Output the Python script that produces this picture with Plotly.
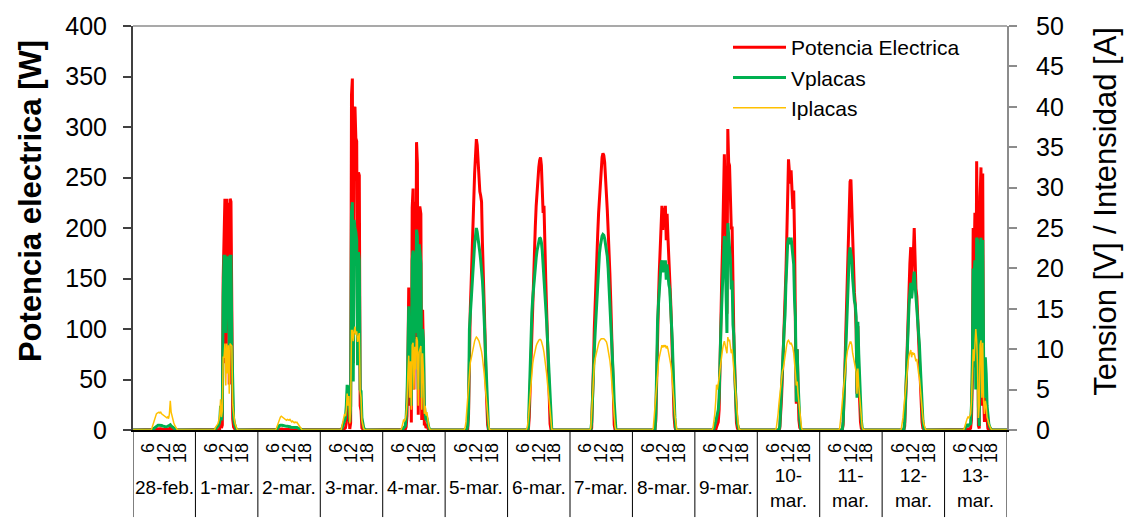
import plotly.graph_objects as go

# ---------------- data ----------------
DAY_LABELS = ["28-feb.", "1-mar.", "2-mar.", "3-mar.", "4-mar.", "5-mar.", "6-mar.",
              "7-mar.", "8-mar.", "9-mar.", "10-\nmar.", "11-\nmar.", "12-\nmar.", "13-\nmar."]
HOUR_TICKS = [6, 12, 18]
HOUR_TEXT = ["6", "12", "18"]

# daylight samples every 20 min from 07:00 (missing trailing samples and night = 0)
P_days = [
    [0, 0, 0, 0, 0, 0.3, 0.6, 1.0, 1.2, 1.3, 1.3, 1.3, 1.1, 1.0, 0.9, 0.8, 0.6, 0.6, 0.6, 0.7, 0.7, 1.2, 2.3, 1.1, 0.6, 0.4, 0.2],
    [0, 0, 0, 0, 0, 0, 0.4, 1.0, 11, 2, 5, 150, 190, 229, 66, 229, 98, 225, 45, 229, 226, 112, 11, 3, 1, 0.2],
    [0, 0, 0.2, 0.5, 0.8, 1.0, 1.1, 1.0, 0.8, 0.7, 0.7, 0.6, 0.5, 0.6, 0.5, 0.5, 0.5, 0.4, 0.35, 0.4, 0.3, 0.3, 0.3, 0.3, 0.3, 0.2, 0.1],
    [0, 0, 0, 0, 0, 0.3, 0.8, 2, 2, 7, 25, 12, 23, 1, 7, 332, 348, 66, 318, 320, 289, 286, 87, 255, 252, 24, 19, 2, 0.4],
    [0, 0, 0, 0.2, 0.3, 0.6, 3, 14, 63, 141, 24, 119, 7.5, 220, 239, 40, 226, 90, 285, 264, 15, 220, 220, 214, 10, 119, 77, 6, 6, 2, 3.3, 1, 0.2],
    [0, 0, 0, 0, 0, 0, 15, 100, 120, 145, 176, 210, 238, 254, 271, 288, 282, 266, 255, 236, 232, 226, 185, 160, 120, 94, 50, 20, 5],
    [0, 0, 0, 0, 13, 43, 74, 106, 134, 158, 181, 202, 222, 238, 252, 260, 267, 270, 262, 244, 215, 222, 172, 150, 120, 85, 55, 25, 6, 1],
    [0, 0, 0, 0, 2, 25, 62, 100, 128, 150, 175, 195, 215, 232, 250, 262, 270, 274, 272, 265, 252, 235, 218, 198, 180, 155, 128, 100, 62, 30, 5],
    [0, 0, 0, 0, 0, 0, 10, 60, 100, 128, 157, 182, 207, 222, 198, 220, 206, 222, 188, 214, 190, 172, 158, 130, 105, 72, 38, 14, 3],
    [0, 0, 0, 0, 3, 5, 8, 20, 75, 113, 150, 185, 225, 273, 235, 185, 115, 298, 265, 262, 225, 200, 200, 115, 90, 61, 22, 7, 2],
    [0, 0, 0, 0, 0, 2, 14, 32, 55, 76, 106, 132, 155, 190, 235, 268, 256, 244, 257, 236, 219, 237, 190, 98, 26, 80, 27, 10, 2.4, 0.2],
    [0, 0, 0, 0, 0, 0, 5, 24, 58, 94, 126, 167, 206, 230, 246, 248, 220, 178, 150, 136, 124, 100, 36, 103, 52, 24, 8, 1.5, 0.1],
    [0, 0, 0, 0, 0, 4, 21, 52, 84, 115, 143, 165, 181, 145, 168, 174, 200, 162, 140, 132, 110, 100, 68, 55, 22, 8, 2, 0.2],
    [0, 0, 0, 0.2, 0.6, 0.8, 0.8, 0.9, 1.2, 1.6, 10, 48, 200, 162, 215, 62, 266, 188, 4.5, 1.5, 231, 260, 24, 254, 34, 8, 32, 21, 5, 1.5, 0.6, 0.2],
]

V_days = [
    [0, 0, 0.1, 0.2, 0.3, 0.4, 0.5, 0.55, 0.6, 0.6, 0.6, 0.6, 0.55, 0.5, 0.5, 0.45, 0.4, 0.4, 0.4, 0.45, 0.5, 0.6, 0.65, 0.5, 0.4, 0.3, 0.2, 0.1, 0.05],
    [0, 0, 0.1, 0.2, 0.3, 0.4, 0.6, 1.0, 3.0, 1.2, 2.0, 16.5, 21.5, 21.5, 12.0, 21.5, 14.0, 21.5, 10.0, 21.5, 21.5, 10.7, 3.5, 1.5, 0.8, 0.3, 0.1],
    [0, 0.1, 0.3, 0.45, 0.55, 0.6, 0.65, 0.6, 0.55, 0.5, 0.5, 0.45, 0.45, 0.45, 0.4, 0.4, 0.4, 0.35, 0.35, 0.35, 0.3, 0.3, 0.3, 0.3, 0.3, 0.25, 0.2, 0.1, 0.05],
    [0, 0, 0, 0, 0.2, 0.5, 0.8, 1.2, 1.5, 3.0, 5.6, 4.0, 5.5, 1.0, 3.0, 27.0, 28.2, 6.0, 26.0, 25.0, 24.5, 23.5, 8.0, 22.0, 21.0, 5.0, 4.8, 1.5, 0.8, 0.3, 0.1],
    [0, 0, 0.1, 0.2, 0.3, 0.5, 1.5, 4.0, 9.0, 15.3, 6.0, 14.0, 3.0, 21.0, 22.2, 8.0, 22.0, 12.0, 24.8, 24.0, 5.0, 23.0, 22.0, 20.6, 4.0, 12.5, 11.0, 3.0, 2.0, 1.2, 1.5, 0.8, 0.4, 0.1],
    [0, 0, 0, 0, 0, 0.5, 2.5, 12.5, 14.5, 16.5, 18.5, 20.5, 22.0, 23.0, 24.0, 25.0, 24.5, 23.8, 23.0, 22.0, 21.0, 20.0, 18.5, 16.5, 13.5, 11.0, 7.5, 4.5, 1.5, 0.2],
    [0, 0, 0, 0.3, 4.5, 9.0, 12.0, 14.5, 16.3, 17.8, 19.0, 20.2, 21.3, 22.2, 22.9, 23.4, 23.8, 23.7, 23.2, 22.2, 20.5, 19.5, 17.0, 15.5, 13.5, 11.2, 8.8, 6.0, 3.2, 0.8],
    [0, 0, 0, 0, 1.0, 5.0, 7.7, 9.8, 12.0, 14.2, 16.0, 18.0, 20.2, 21.9, 22.8, 23.5, 24.0, 24.2, 24.1, 23.7, 23.0, 22.3, 21.5, 20.0, 18.0, 15.8, 13.3, 11.0, 8.8, 6.5, 3.5, 0.5],
    [0, 0, 0, 0, 0, 0, 2.0, 9.0, 13.5, 15.5, 17.5, 19.0, 20.5, 21.0, 19.5, 21.0, 20.0, 21.0, 18.6, 20.5, 19.0, 18.0, 17.5, 15.5, 13.8, 11.0, 7.5, 4.0, 1.5, 0.2],
    [0, 0.2, 0.5, 1.0, 1.5, 2.0, 2.5, 4.0, 10.0, 12.5, 15.5, 18.5, 21.0, 24.0, 22.0, 18.0, 12.0, 25.6, 24.0, 23.0, 21.0, 17.4, 18.5, 13.0, 11.6, 7.0, 4.0, 2.0, 0.8, 0.1],
    [0, 0, 0, 0, 0, 0.5, 2.5, 5.0, 7.5, 10.0, 12.5, 14.2, 18.0, 21.0, 23.0, 23.8, 23.5, 23.0, 23.8, 22.5, 21.5, 20.5, 16.0, 14.0, 3.5, 10.0, 6.0, 3.0, 1.2, 0.2],
    [0, 0, 0, 0, 0, 0, 1.0, 4.0, 8.0, 11.5, 14.0, 17.0, 20.0, 21.5, 22.6, 22.0, 21.0, 18.8, 17.0, 16.0, 15.5, 14.0, 4.0, 13.4, 9.5, 6.0, 3.0, 1.2, 0.3],
    [0, 0, 0, 0, 0, 1.0, 4.0, 8.0, 11.0, 13.5, 15.5, 17.0, 18.2, 16.3, 17.5, 18.5, 19.6, 18.0, 16.5, 15.4, 14.0, 12.5, 10.5, 8.0, 5.5, 3.0, 1.2, 0.3],
    [0, 0, 0, 0.3, 0.5, 0.6, 0.5, 0.6, 0.7, 0.8, 3.0, 8.0, 20.0, 19.0, 21.0, 5.0, 23.8, 23.5, 3.0, 0.5, 22.0, 23.8, 6.0, 23.5, 9.4, 4.0, 9.0, 7.0, 3.0, 1.5, 0.8, 0.4, 0.2, 0.05],
]

I_days = [
    [0, 0.3, 0.7, 1.1, 1.5, 1.8, 2.0, 2.1, 2.2, 2.2, 2.1, 2.2, 2.0, 1.9, 1.8, 1.7, 1.6, 1.6, 1.5, 1.6, 1.4, 2.0, 3.6, 2.2, 1.6, 1.2, 0.9, 0.6, 0.4, 0.2, 0.05],
    [0, 0, 0.3, 0.5, 0.6, 0.8, 1.2, 1.8, 3.8, 1.6, 2.4, 9.0, 9.0, 10.7, 5.5, 10.7, 7.0, 10.5, 4.5, 10.7, 10.5, 10.4, 3.2, 1.8, 1.2, 0.7, 0.3, 0.1],
    [0.1, 0.4, 0.8, 1.1, 1.4, 1.6, 1.7, 1.6, 1.5, 1.4, 1.35, 1.3, 1.2, 1.3, 1.25, 1.2, 1.3, 1.1, 1.0, 1.1, 1.0, 0.9, 1.0, 0.9, 0.95, 0.8, 0.6, 0.4, 0.2, 0.05],
    [0, 0, 0, 0, 0.5, 1.2, 1.8, 2.0, 1.7, 2.5, 4.5, 3.0, 4.2, 0.8, 2.5, 12.3, 12.3, 11.0, 12.2, 12.8, 11.8, 12.2, 10.9, 11.6, 12.0, 4.8, 4.0, 1.2, 0.5, 0.2],
    [0, 0.3, 0.8, 1.2, 1.1, 1.3, 2.0, 3.5, 7.0, 9.2, 4.0, 8.5, 2.5, 10.5, 10.8, 5.0, 10.3, 7.5, 11.5, 11.0, 3.0, 9.6, 10.0, 10.4, 2.5, 9.5, 7.0, 2.0, 3.0, 1.8, 2.2, 1.2, 0.6, 0.2],
    [0, 0, 0.3, 1.0, 2.5, 4.0, 6.0, 7.7, 8.3, 8.8, 9.5, 10.2, 10.8, 11.0, 11.3, 11.5, 11.4, 11.2, 11.0, 10.6, 10.2, 9.7, 9.0, 8.2, 7.0, 5.7, 4.3, 3.0, 1.8, 0.8, 0.1],
    [0, 0.1, 0.5, 1.5, 3.0, 4.8, 6.2, 7.3, 8.2, 8.9, 9.5, 10.0, 10.4, 10.7, 11.0, 11.1, 11.2, 11.2, 11.0, 10.7, 10.2, 9.6, 8.9, 8.0, 7.0, 5.8, 4.5, 3.1, 1.8, 0.7, 0.1],
    [0, 0, 0, 0.3, 2.5, 5.0, 7.0, 8.0, 8.8, 9.4, 9.9, 10.3, 10.7, 11.0, 11.2, 11.3, 11.3, 11.3, 11.3, 11.2, 11.1, 10.9, 10.5, 10.0, 9.4, 8.6, 7.6, 6.4, 5.0, 3.4, 1.8, 0.5],
    [0, 0, 0, 0.2, 1.5, 3.5, 5.2, 6.5, 7.5, 8.3, 9.0, 9.6, 10.1, 10.5, 10.2, 10.5, 10.3, 10.5, 10.1, 10.4, 10.0, 9.5, 8.9, 8.2, 7.4, 6.3, 5.0, 3.4, 1.9, 0.7, 0.1],
    [0.3, 1.0, 2.0, 3.5, 5.6, 5.0, 5.6, 6.5, 7.5, 8.5, 9.3, 10.0, 10.6, 11.0, 10.5, 10.0, 9.5, 11.5, 11.0, 11.2, 10.5, 9.5, 10.0, 8.5, 7.8, 6.5, 5.0, 3.5, 2.0, 0.8, 0.1],
    [0, 0.3, 1.0, 2.0, 3.3, 4.5, 5.5, 6.5, 7.3, 7.6, 8.5, 9.3, 10.0, 10.6, 11.0, 11.1, 10.9, 10.6, 10.8, 10.5, 10.2, 9.5, 7.6, 7.0, 5.5, 6.0, 4.5, 3.2, 2.0, 1.0, 0.3],
    [0, 0, 0.2, 1.0, 2.2, 3.5, 4.8, 6.0, 7.2, 8.2, 9.0, 9.8, 10.3, 10.7, 10.9, 10.9, 10.5, 9.5, 8.8, 8.5, 8.0, 7.2, 4.5, 7.6, 5.5, 4.0, 2.5, 1.2, 0.4, 0.1],
    [0, 0.1, 0.6, 1.5, 2.7, 4.0, 5.3, 6.5, 7.6, 8.5, 9.2, 9.7, 9.9, 9.0, 9.6, 9.4, 9.5, 9.0, 8.5, 8.8, 7.6, 7.0, 6.4, 5.0, 3.8, 2.6, 1.6, 0.8, 0.3, 0.1],
    [0, 0, 0.3, 0.8, 1.2, 1.4, 1.6, 1.5, 1.7, 2.0, 3.5, 6.0, 10.0, 8.5, 10.5, 12.5, 11.1, 8.0, 1.5, 3.0, 10.5, 11.1, 4.0, 10.8, 3.6, 2.0, 3.6, 3.0, 1.6, 1.0, 0.8, 0.5, 0.2, 0.05],
]

# ---------------- build time series (hours since 28-feb 00:00) ----------------
STEPS_PER_HOUR = 3          # 20-minute samples
FIRST_STEP = 7 * STEPS_PER_HOUR
N_DAYS = len(DAY_LABELS)


def series(days):
    xs, ys = [], []
    for d, vals in enumerate(days):
        for m in range(24 * STEPS_PER_HOUR):
            j = m - FIRST_STEP
            xs.append(d * 24 + m / STEPS_PER_HOUR)
            ys.append(vals[j] if 0 <= j < len(vals) else 0)
    xs.append(N_DAYS * 24)
    ys.append(0)
    return xs, ys


xp, yp = series(P_days)
xv, yv = series(V_days)
xi, yi = series(I_days)

FONT = "Liberation Sans, Arial, sans-serif"

fig = go.Figure()
fig.add_trace(go.Scatter(x=xp, y=yp, name="Potencia Electrica", mode="lines",
                         line=dict(color="#FF0000", width=3)))
fig.add_trace(go.Scatter(x=xv, y=yv, name="Vplacas", mode="lines", yaxis="y2",
                         line=dict(color="#00B050", width=3)))
fig.add_trace(go.Scatter(x=xi, y=yi, name="Iplacas", mode="lines", yaxis="y2",
                         line=dict(color="#FFC000", width=1.5)))

tickvals, ticktext = [], []
for d in range(N_DAYS):
    for h, t in zip(HOUR_TICKS, HOUR_TEXT):
        tickvals.append(d * 24 + h)
        ticktext.append(t)

PLOT_H = 519 - 17 - 89

shapes = []
for d in range(N_DAYS + 1):
    shapes.append(dict(type="line", xref="x", yref="paper", x0=d * 24, x1=d * 24,
                       y0=-89 / PLOT_H, y1=0, line=dict(color="#000000", width=1)))
shapes.append(dict(type="line", xref="paper", yref="paper", x0=0, x1=1, y0=1, y1=1,
                   line=dict(color="#8C8C8C", width=1.5)))

annotations = []
for d, lab in enumerate(DAY_LABELS):
    annotations.append(dict(x=d * 24 + 12, y=(430 - 489) / PLOT_H, xref="x", yref="paper",
                            text=lab.replace("\n", "<br>"), showarrow=False,
                            xanchor="center", yanchor="middle",
                            font=dict(size=19, color="#000000", family=FONT)))
annotations.append(dict(x=(30 - 133) / 874, y=(430 - 196) / PLOT_H, xref="paper", yref="paper",
                        text="<b>Potencia electrica [W]</b>", textangle=-90, showarrow=False,
                        xanchor="center", yanchor="middle",
                        font=dict(size=31, color="#000000", family=FONT)))
annotations.append(dict(x=(1106 - 133) / 874, y=(430 - 207) / PLOT_H, xref="paper", yref="paper",
                        text="Tension [V] / Intensidad [A]", textangle=-90, showarrow=False,
                        xanchor="center", yanchor="middle",
                        font=dict(size=31, color="#000000", family=FONT)))

fig.update_layout(
    width=1128, height=519,
    margin=dict(l=133, r=121, t=17, b=89),
    paper_bgcolor="white", plot_bgcolor="white",
    font=dict(family=FONT, color="#000000"),
    showlegend=True,
    legend=dict(x=(728 - 133) / 874, y=(430 - 18) / PLOT_H, xanchor="left", yanchor="top",
                bgcolor="rgba(0,0,0,0)", font=dict(size=21, color="#000000", family=FONT),
                itemwidth=53, tracegroupgap=0),
    xaxis=dict(range=[0, N_DAYS * 24], tickmode="array", tickvals=tickvals, ticktext=ticktext,
               tickangle=-90, tickfont=dict(size=18, color="#000000"), ticks="",
               showline=True, linecolor="#000000", linewidth=1.5, showgrid=False,
               zeroline=False, ticklabelstandoff=4),
    yaxis=dict(range=[0, 400], dtick=50, tick0=0, ticks="outside", ticklen=8,
               tickcolor="#404040", tickwidth=1.5, showline=True, linecolor="#404040",
               linewidth=2, showgrid=False, zeroline=False,
               tickfont=dict(size=25, color="#000000"), ticklabelstandoff=11),
    yaxis2=dict(range=[0, 50], dtick=5, tick0=0, overlaying="y", side="right",
                ticks="outside", ticklen=8, tickcolor="#8C8C8C", tickwidth=1.5,
                showline=True, linecolor="#8C8C8C", linewidth=2, showgrid=False,
                zeroline=False, tickfont=dict(size=25, color="#000000"),
                ticklabelstandoff=14),
    shapes=shapes,
    annotations=annotations,
)

fig.write_html("out.html")
